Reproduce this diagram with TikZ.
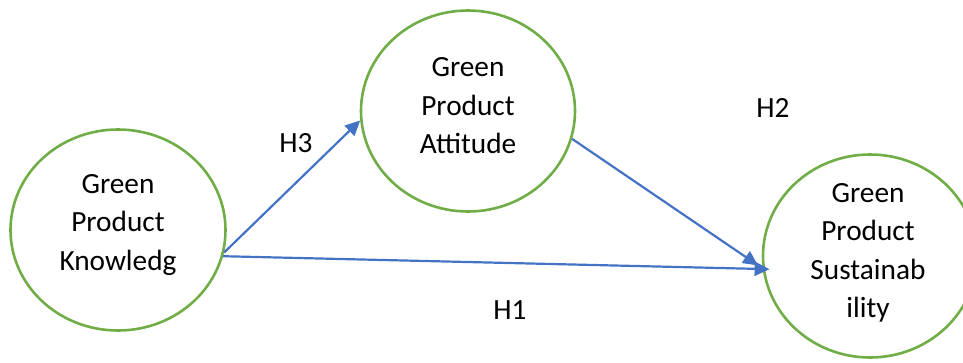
\documentclass[tikz,border=0pt]{standalone}
\usepackage{fontspec}
\setmainfont{Carlito}
\usetikzlibrary{shapes.geometric,arrows.meta}
\definecolor{ogreen}{HTML}{70AD47}
\definecolor{oblue}{HTML}{4472C4}
\tikzset{
  construct/.style={ellipse, draw=ogreen, line width=2.6pt, inner sep=0pt},
  ctext/.style={align=center, inner sep=0pt, font=\fontsize{29.3}{38.5}\selectfont},
  hyp/.style={draw=oblue, line width=2.2pt,
    -{Triangle[length=15pt,width=14pt]}},
  hlabel/.style={font=\fontsize{29.3}{38.5}\selectfont, inner sep=0pt}
}
\begin{document}
\begin{tikzpicture}[x=1pt,y=-1pt]
\useasboundingbox (0,0) rectangle (963,362);
\clip (0,0) rectangle (963,362);
\node[construct, minimum width=215pt, minimum height=201pt] (gpk) at (118,230) {};
\node[construct, minimum width=214pt, minimum height=201pt] (gpa) at (468,111) {};
\node[construct, minimum width=214pt, minimum height=203pt] (gps) at (870,256) {};
\node[ctext] (gpkt) at ([yshift=5pt]gpk.center) {Green\\Product\\Knowledg};
\node[ctext] (gpat) at ([yshift=5pt]gpa.center) {Green\\Product\\Attitude};
\node[ctext] (gpst) at ([yshift=3pt,xshift=-2pt]gps.center) {Green\\Product\\Sustainab\\ility};
\draw[hyp] (gpk.-12) -- (gpa.185);
\draw[hyp] (gpk.-14) -- ([xshift=7pt]gps.187);
\draw[hyp] (gpa.-15) -- ([xshift=-4pt]gps.185);
\node[hlabel] (h3) at (296,143) {H3};
\node[hlabel] (h2) at (773,108) {H2};
\node[hlabel] (h1) at (510,310) {H1};
\end{tikzpicture}
\end{document}
